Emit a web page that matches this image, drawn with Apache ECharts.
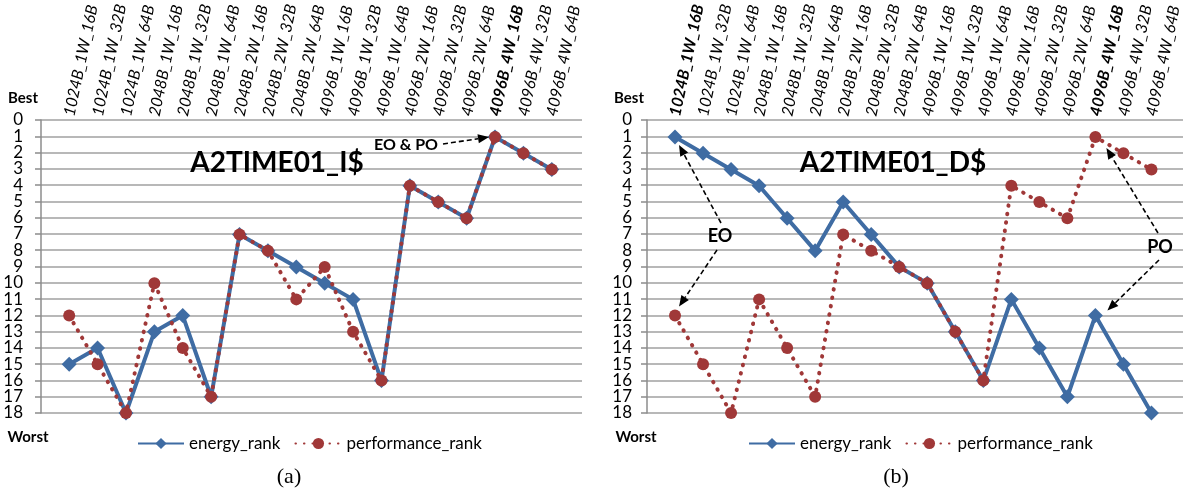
<!DOCTYPE html>
<html>
<head>
<meta charset="utf-8">
<script src="https://cdn.jsdelivr.net/npm/echarts@6/dist/echarts.min.js"></script>
<style>
html,body{margin:0;padding:0;background:#fff;}
#chart{width:1183px;height:497px;}
</style>
</head>
<body>
<div id="chart"></div>
<script>
const categories = ['1024B_1W_16B','1024B_1W_32B','1024B_1W_64B','2048B_1W_16B','2048B_1W_32B','2048B_1W_64B','2048B_2W_16B','2048B_2W_32B','2048B_2W_64B','4096B_1W_16B','4096B_1W_32B','4096B_1W_64B','4096B_2W_16B','4096B_2W_32B','4096B_2W_64B','4096B_4W_16B','4096B_4W_32B','4096B_4W_64B'];
const energyA = [15,14,18,13,12,17,7,8,9,10,11,16,4,5,6,1,2,3];
const perfA   = [12,15,18,10,14,17,7,8,11,9,13,16,4,5,6,1,2,3];
const energyB = [1,2,3,4,6,8,5,7,9,10,13,16,11,14,17,12,15,18];
const perfB   = [12,15,18,11,14,17,7,8,9,10,13,16,4,5,6,1,2,3];
const yTicks  = ['0','1','2','3','4','5','6','7','8','9','10','11','12','13','14','15','16','17','18'];
const boldA = [15];
const boldB = [0,15];
const titleA = 'A2TIME01_I$';
const titleB = 'A2TIME01_D$';

const BLUE = '#3f6ca3', RED = '#a03838', GRIDC = '#a0a0a0';
const FONT = 'Lato';

const chart = echarts.init(document.getElementById('chart'), null, {renderer:'canvas'});

function frameY(gridIndex, margin, parity){
  const main = parity === 0;
  return {gridIndex, type:'value', inverse:true, min:0, max:18, interval:1, position:'left',
    axisLine:{show:main, lineStyle:{color:'#8c8c8c', width:1.5}},
    axisTick:{show:main, length:6, lineStyle:{color:'#8c8c8c', width:1.5}},
    axisLabel:{color:'#000', margin:margin, fontSize:17, fontFamily:FONT, showMinLabel:true, showMaxLabel:true, hideOverlap:false,
      formatter:v=> (v % 2 === parity ? yTicks[v] : '')},
    splitLine:{show:main, showMinLine:true, showMaxLine:true, lineStyle:{color:GRIDC, width:1.5}}};
}
function hiddenY(gridIndex){
  return {gridIndex, type:'value', inverse:true, min:0, max:18, show:false};
}
function frameX(gridIndex){
  return {gridIndex, type:'value', min:0, max:1, show:false};
}
function catX(gridIndex, bolds){
  return {gridIndex, type:'category', position:'top', data:categories, boundaryGap:true,
    axisLine:{show:false}, axisTick:{show:false}, splitLine:{show:false},
    axisLabel:{interval:0, rotate:78, margin:5, fontSize:16, fontStyle:'italic', fontFamily:FONT, color:'#000',
      formatter:(v,i)=> bolds.includes(i) ? '{b|'+v+'}' : v,
      rich:{b:{fontWeight:'bold', fontStyle:'italic', fontSize:16, fontFamily:FONT, color:'#000'}}}};
}
function energySeries(ax, data){
  return {name:'energy_rank', type:'line', xAxisIndex:ax, yAxisIndex:ax, data,
    symbol:'diamond', symbolSize:15, z:3,
    lineStyle:{color:BLUE, width:4}, itemStyle:{color:BLUE}};
}
function perfSeries(ax, data){
  return {name:'performance_rank', type:'line', xAxisIndex:ax, yAxisIndex:ax, data,
    symbol:'circle', symbolSize:12, z:4,
    lineStyle:{color:RED, width:4, type:[0.5,8], cap:'round'}, itemStyle:{color:RED}};
}

chart.setOption({
  animation:false,
  backgroundColor:'#fff',
  grid:[
    {left:41, width:541, top:120, height:293},
    {left:55, width:511, top:120, height:293},
    {left:647, right:0, top:120, height:293},
    {left:661, width:513, top:120, height:293}
  ],
  xAxis:[frameX(0), catX(1, boldA), frameX(2), catX(3, boldB)],
  // indices: 0 frameA even, 1 seriesA, 2 frameB even, 3 seriesB, 4 frameA odd, 5 frameB odd
  yAxis:[frameY(0,18,0), hiddenY(1), frameY(2,15,0), hiddenY(3), frameY(0,18,1), frameY(2,15,1)],
  legend:[
    {left:132, top:430, itemWidth:46, itemHeight:14, itemGap:14,
     textStyle:{fontSize:17, fontFamily:FONT, color:'#000'}, data:['energy_rank','performance_rank']},
    {left:743, top:430, itemWidth:46, itemHeight:14, itemGap:14,
     textStyle:{fontSize:17, fontFamily:FONT, color:'#000'}, data:['energy_rank','performance_rank']}
  ],
  series:[energySeries(1, energyA), perfSeries(1, perfA), energySeries(3, energyB), perfSeries(3, perfB)]
});

function pt(ax, i, v){ return chart.convertToPixel({xAxisIndex:ax, yAxisIndex:ax}, [i, v]); }
function arrow(x1,y1,x2,y2){
  const a = Math.atan2(y2-y1, x2-x1), L = 11, W = 9;
  const bx = x2 - L*Math.cos(a), by = y2 - L*Math.sin(a);
  const px = -Math.sin(a)*W/2, py = Math.cos(a)*W/2;
  return [
    {type:'line', shape:{x1,y1,x2:bx,y2:by}, style:{stroke:'#000', lineWidth:1.6, lineDash:[5,3]}, z:10},
    {type:'polygon', shape:{points:[[x2,y2],[bx+px,by+py],[bx-px,by-py]]}, style:{fill:'#000'}, z:10}
  ];
}
function txt(x,y,text,size,weight,align,family){
  return {type:'text', x, y, z:10, style:{text, fontSize:size, fontWeight:weight||'normal', fontFamily:family||FONT,
    fill:'#000', align:align||'center', verticalAlign:'middle'}};
}

const pA = pt(1, 15, energyA[15]);
const pB0 = pt(3, 0, energyB[0]);
const pB1 = pt(3, 0, perfB[0]);
const pB2 = pt(3, 15, perfB[15]);
const pB3 = pt(3, 15, energyB[15]);

const g = [];
g.push(txt(277,163,titleA,28,'bold'));
g.push(txt(893,163,titleB,28,'bold'));
g.push(txt(23,98,'Best',15,'bold'));
g.push(txt(28,437,'Worst',15,'bold'));
g.push(txt(629,98,'Best',15,'bold'));
g.push(txt(636,437,'Worst',15,'bold'));
g.push(txt(406,145,'EO & PO',16,'bold'));
g.push(...arrow(443,144,pA[0]-6,pA[1]));
g.push(txt(720,236,'EO',18,'bold'));
g.push(...arrow(721,223,pB0[0]+4,pB0[1]+8));
g.push(...arrow(717,250,pB1[0]+4,pB1[1]-9));
g.push(txt(1160,247,'PO',18,'bold'));
g.push(...arrow(1158,233,pB2[0]+11,pB2[1]+11));
g.push(...arrow(1159,260,pB3[0]+12,pB3[1]-5));
g.push(txt(289,477,'(a)',22,'normal','center','Liberation Serif'));
g.push(txt(896,477,'(b)',22,'normal','center','Liberation Serif'));
chart.setOption({graphic:{elements:g}});
</script>
</body>
</html>
